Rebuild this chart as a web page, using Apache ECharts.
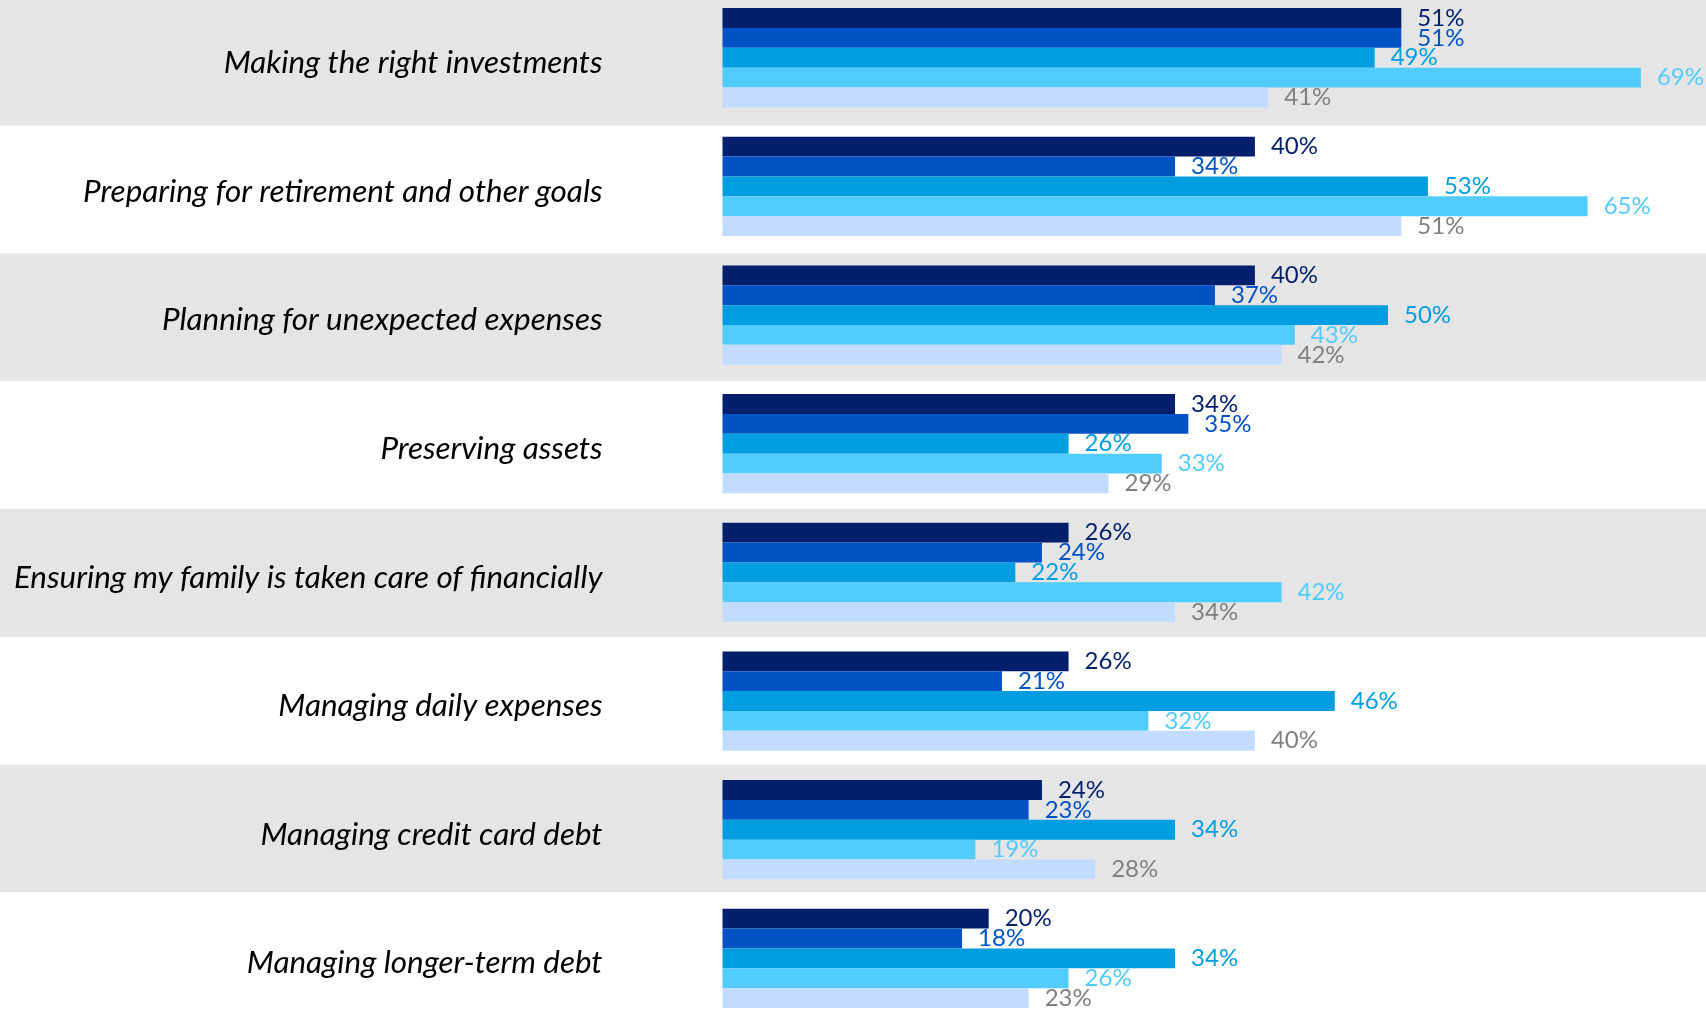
<!DOCTYPE html>
<html>
<head>
<meta charset="utf-8">
<title>Financial priorities</title>
<script src="https://cdn.jsdelivr.net/npm/echarts@6/dist/echarts.min.js"></script>
<style>
  html, body { margin: 0; padding: 0; background: #ffffff; overflow: hidden; width: 1706px; height: 1009px; }
  /* the canvas runs a little past the top and bottom of the page so the outer rows can bleed off the edges */
  #chart { position: absolute; left: 0; top: -20px; width: 1706px; height: 1060px; }
</style>
</head>
<body>
<div id="chart"></div>
<script>
// Topics, top to bottom
const categories = [
  'Making the right investments',
  'Preparing for retirement and other goals',
  'Planning for unexpected expenses',
  'Preserving assets',
  'Ensuring my family is taken care of financially',
  'Managing daily expenses',
  'Managing credit card debt',
  'Managing longer-term debt'
];

// Share of respondents (%) for each of the five groups
const seriesA = [51, 40, 40, 34, 26, 26, 24, 20];
const seriesB = [51, 34, 37, 35, 24, 21, 23, 18];
const seriesC = [49, 53, 50, 26, 22, 46, 34, 34];
const seriesD = [69, 65, 43, 33, 42, 32, 19, 26];
const seriesE = [41, 51, 42, 29, 34, 40, 28, 23];

const barColors   = ['#021f6b', '#0053c5', '#009ee0', '#52cbff', '#c2dcff'];
const labelColors = ['#021f6b', '#0053c5', '#009ee0', '#52cbff', '#808080'];
const allSeries = [seriesA, seriesB, seriesC, seriesD, seriesE];

const chart = echarts.init(document.getElementById('chart'), null, { renderer: 'canvas' });

const bars = allSeries.map((values, i) => ({
  type: 'bar',
  xAxisIndex: 0,
  yAxisIndex: 0,
  data: values,
  barWidth: 19.86,
  barGap: '0%',
  itemStyle: { color: barColors[i] },
  label: {
    show: true,
    position: 'right',
    distance: 16,
    formatter: '{c}%',
    color: labelColors[i],
    fontFamily: 'Lato',
    fontSize: 24
  },
  silent: true,
  animation: false
}));

// Alternating row shading across the whole width, drawn from the category bands
const shading = {
  type: 'bar',
  xAxisIndex: 1,
  yAxisIndex: 1,
  data: [],
  silent: true
};

chart.setOption({
  animation: false,
  backgroundColor: '#ffffff',
  grid: [
    { left: 722.5, right: 51.8, top: 13.4, height: 1029.3, containLabel: false },
    { left: 0, right: 0, top: 17.9, height: 1022.4, containLabel: false, z: 0 }
  ],
  xAxis: [
    { type: 'value', gridIndex: 0, min: 0, max: 70, show: false, splitLine: { show: false } },
    { type: 'value', gridIndex: 1, min: 0, max: 1, show: false }
  ],
  yAxis: [
    {
      type: 'category',
      gridIndex: 0,
      data: categories,
      inverse: true,
      axisLine: { show: false },
      axisTick: { show: false },
      splitLine: { show: false },
      axisLabel: {
        margin: 120,
        formatter: (v) => '{t|' + v + '}',
        rich: {
          t: {
            padding: [10, 0, 0, 0],
            color: '#000000',
            fontFamily: 'Lato',
            fontStyle: 'italic',
            fontSize: 31.4
          }
        }
      },
      z: 5
    },
    {
      type: 'category',
      gridIndex: 1,
      data: categories,
      inverse: true,
      axisLine: { show: false },
      axisTick: { show: false },
      axisLabel: { show: false },
      splitArea: { show: true, areaStyle: { color: ['#e5e5e5', '#ffffff'] } },
      z: 0
    }
  ],
  series: bars.concat([shading])
});
</script>
</body>
</html>
